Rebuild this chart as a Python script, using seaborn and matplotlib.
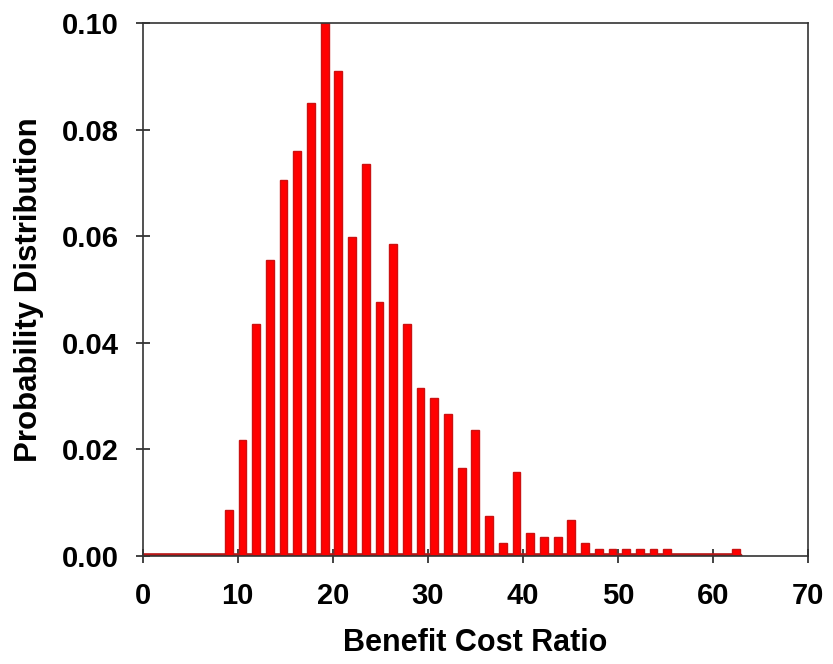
import matplotlib
matplotlib.use("Agg")
import matplotlib.pyplot as plt
import seaborn as sns
import numpy as np
import pandas as pd

# bin centres of the benefit cost ratio histogram
bcr_mid = [9.05, 10.49, 11.93, 13.38, 14.82, 16.26, 17.70, 19.14, 20.59,
           22.03, 23.47, 24.91, 26.35, 27.80, 29.24, 30.68, 32.12, 33.56,
           35.01, 36.45, 37.89, 39.33, 40.77, 42.22, 43.66, 45.10, 46.54,
           47.98, 49.43, 50.87, 52.31, 53.75, 55.19, 62.40]
prob = [0.0086, 0.0217, 0.0435, 0.0555, 0.0705, 0.0760, 0.0850, 0.1000, 0.0910,
        0.0598, 0.0735, 0.0476, 0.0586, 0.0435, 0.0315, 0.0296, 0.0266, 0.0165,
        0.0236, 0.0075, 0.0025, 0.0157, 0.0044, 0.0036, 0.0036, 0.0067, 0.0025,
        0.0014, 0.0014, 0.0014, 0.0014, 0.0014, 0.0014, 0.0014]
bin_width = 1.442

# thin floor of the distribution drawn along the axis
floor_x = [0.0, 62.7]
floor_y = [0.0, 0.0]

xticks = [0, 10, 20, 30, 40, 50, 60, 70]
yticks = [0.00, 0.02, 0.04, 0.06, 0.08, 0.10]

df = pd.DataFrame({"bcr": bcr_mid, "p": prob})

sns.set_style("ticks")
plt.rcParams["font.family"] = ["Liberation Sans", "DejaVu Sans"]
plt.rcParams["font.weight"] = "bold"
plt.rcParams["text.color"] = "black"
plt.rcParams["axes.labelcolor"] = "black"

fig = plt.figure(figsize=(8.33, 6.64), dpi=100)
ax = fig.add_axes([0.1713, 0.1627, 0.7987, 0.8026])

sns.lineplot(x=floor_x, y=floor_y, ax=ax, color="#b81818", linewidth=4.8,
             zorder=1)
sns.histplot(data=df, x="bcr", weights="p", binwidth=bin_width,
             binrange=(bcr_mid[0] - bin_width / 2, bcr_mid[-1] + bin_width / 2),
             shrink=0.57, color="#ff0000", edgecolor="#cc1111", linewidth=1,
             alpha=1, ax=ax, zorder=2)

ax.set_xlim(0, 70)
ax.set_ylim(0, 0.10)
ax.set_xticks(xticks)
ax.set_yticks(yticks)
ax.set_yticklabels([f"{v:.2f}" for v in yticks])
ax.tick_params(axis="both", direction="inout", length=10, width=1.2,
               labelsize=21, color="#222222", labelcolor="black")
ax.tick_params(axis="x", pad=14)
ax.tick_params(axis="y", pad=12)
for s in ax.spines.values():
    s.set_visible(True)
    s.set_linewidth(1.2)
    s.set_color("#333333")
    s.set_zorder(3)

ax.set_xlabel("Benefit Cost Ratio", fontsize=22, fontweight="bold", labelpad=13)
ax.set_ylabel("Probability Distribution", fontsize=22.5, fontweight="bold",
              labelpad=13)

fig.savefig("out.png", dpi=100)
